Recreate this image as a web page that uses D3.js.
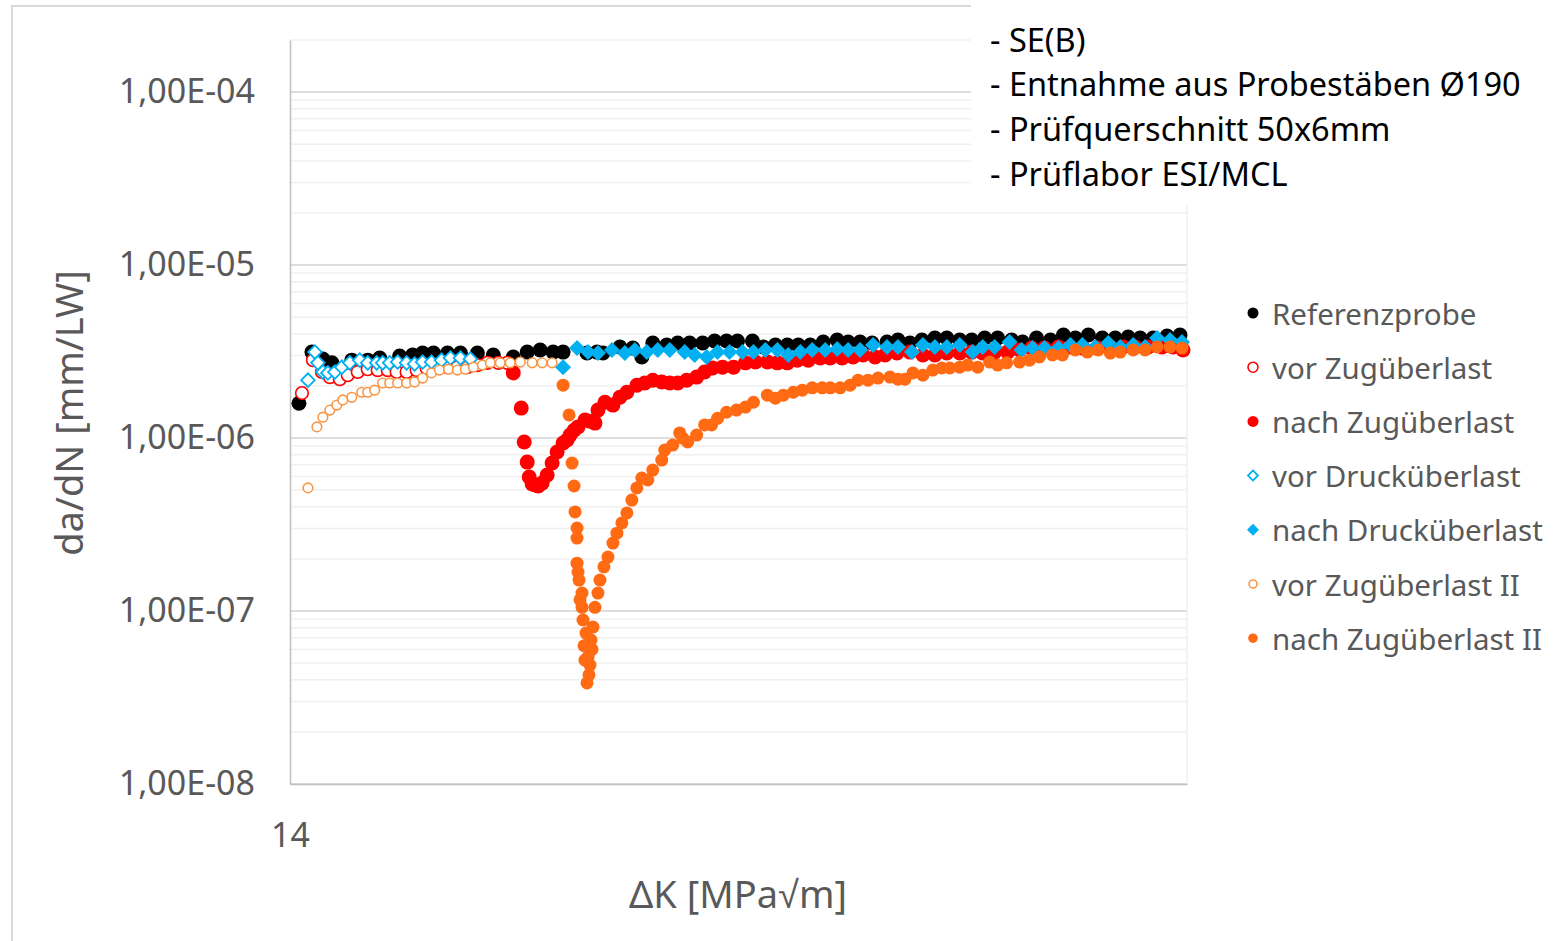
<!DOCTYPE html>
<html>
<head>
<meta charset="utf-8">
<script src="https://cdn.jsdelivr.net/npm/d3@7"></script>
<style>
body { margin: 0; background: #fff; }
svg { display: block; font-family: 'Noto Sans', sans-serif; }
</style>
</head>
<body>
<script>
// Werte: [ΔK, da/dN]
const referenzprobe = [
	[14.09, 1.59e-6], [14.22, 3.14e-6], [14.33, 2.86e-6], [14.42, 2.72e-6], [14.62, 2.82e-6], [14.78, 2.82e-6],
	[14.90, 2.90e-6], [15.10, 2.98e-6], [15.23, 3.02e-6], [15.33, 3.10e-6], [15.44, 3.10e-6], [15.58, 3.10e-6],
	[15.71, 3.10e-6], [15.88, 3.10e-6], [16.04, 3.02e-6], [16.24, 2.94e-6], [16.38, 3.14e-6], [16.51, 3.23e-6],
	[16.64, 3.14e-6], [16.74, 3.14e-6], [16.98, 3.10e-6], [17.08, 3.14e-6], [17.14, 3.10e-6], [17.31, 3.36e-6],
	[17.44, 3.31e-6], [17.53, 2.94e-6], [17.64, 3.54e-6], [17.78, 3.45e-6], [17.89, 3.54e-6], [18.01, 3.54e-6],
	[18.14, 3.54e-6], [18.26, 3.64e-6], [18.38, 3.64e-6], [18.49, 3.64e-6], [18.64, 3.64e-6], [18.75, 3.36e-6],
	[18.87, 3.45e-6], [18.99, 3.45e-6], [19.10, 3.45e-6], [19.22, 3.45e-6], [19.35, 3.59e-6], [19.49, 3.69e-6],
	[19.60, 3.59e-6], [19.72, 3.59e-6], [19.84, 3.54e-6], [19.99, 3.59e-6], [20.10, 3.69e-6], [20.22, 3.54e-6],
	[20.34, 3.69e-6], [20.47, 3.79e-6], [20.59, 3.79e-6], [20.72, 3.69e-6], [20.84, 3.69e-6], [20.97, 3.79e-6],
	[21.10, 3.79e-6], [21.24, 3.69e-6], [21.35, 3.59e-6], [21.49, 3.79e-6], [21.63, 3.69e-6], [21.76, 3.94e-6],
	[21.88, 3.79e-6], [22.01, 3.94e-6], [22.15, 3.79e-6], [22.28, 3.79e-6], [22.41, 3.84e-6], [22.53, 3.79e-6],
	[22.66, 3.79e-6], [22.80, 3.89e-6], [22.93, 3.94e-6]
]
const vorZug = [
	[14.12, 1.82e-6], [14.23, 2.82e-6], [14.32, 2.41e-6], [14.40, 2.25e-6], [14.50, 2.19e-6], [14.58, 2.31e-6],
	[14.68, 2.41e-6], [14.78, 2.50e-6], [14.88, 2.47e-6], [14.98, 2.47e-6], [15.07, 2.41e-6], [15.17, 2.41e-6],
	[15.27, 2.47e-6], [15.37, 2.54e-6], [15.47, 2.57e-6], [15.58, 2.57e-6], [15.68, 2.57e-6], [15.78, 2.57e-6],
	[15.88, 2.64e-6], [15.98, 2.72e-6], [16.09, 2.72e-6], [16.18, 2.72e-6]
]
const nachZug = [
	[16.24, 2.38e-6], [16.32, 1.49e-6], [16.35, 9.49e-7], [16.38, 7.26e-7], [16.40, 5.95e-7], [16.43, 5.42e-7],
	[16.46, 5.35e-7], [16.49, 5.28e-7], [16.53, 5.49e-7], [16.58, 6.11e-7], [16.63, 7.17e-7], [16.68, 8.30e-7],
	[16.74, 9.36e-7], [16.78, 9.74e-7], [16.81, 1.04e-6], [16.85, 1.11e-6], [16.89, 1.16e-6], [16.96, 1.27e-6],
	[17.01, 1.25e-6], [17.06, 1.22e-6], [17.09, 1.45e-6], [17.16, 1.61e-6], [17.24, 1.55e-6], [17.31, 1.72e-6],
	[17.38, 1.84e-6], [17.48, 2.02e-6], [17.56, 2.08e-6], [17.64, 2.16e-6], [17.73, 2.11e-6], [17.81, 2.08e-6],
	[17.89, 2.08e-6], [17.98, 2.16e-6], [18.08, 2.25e-6], [18.16, 2.41e-6], [18.24, 2.54e-6], [18.34, 2.57e-6],
	[18.45, 2.57e-6], [18.57, 2.72e-6], [18.67, 2.75e-6], [18.79, 2.75e-6], [18.89, 2.72e-6], [18.99, 2.72e-6],
	[19.09, 2.82e-6], [19.20, 2.82e-6], [19.32, 2.90e-6], [19.42, 2.90e-6], [19.54, 2.90e-6], [19.65, 2.94e-6],
	[19.75, 3.02e-6], [19.87, 2.94e-6], [19.97, 3.02e-6], [20.09, 3.10e-6], [20.22, 3.14e-6], [20.35, 3.02e-6],
	[20.47, 3.02e-6], [20.59, 3.10e-6], [20.72, 3.10e-6], [20.84, 3.14e-6], [20.95, 3.10e-6], [21.07, 3.14e-6],
	[21.20, 3.14e-6], [21.32, 3.23e-6], [21.44, 3.31e-6], [21.57, 3.31e-6], [21.71, 3.36e-6], [21.83, 3.36e-6],
	[21.96, 3.31e-6], [22.10, 3.31e-6], [22.23, 3.36e-6], [22.36, 3.36e-6], [22.48, 3.36e-6], [22.61, 3.36e-6],
	[22.75, 3.36e-6], [22.86, 3.36e-6], [22.96, 3.23e-6]
]
const vorDruck = [
	[14.18, 2.16e-6], [14.25, 3.14e-6], [14.28, 2.72e-6], [14.33, 2.41e-6], [14.38, 2.38e-6], [14.45, 2.41e-6],
	[14.52, 2.57e-6], [14.60, 2.72e-6], [14.70, 2.82e-6], [14.78, 2.72e-6], [14.87, 2.72e-6], [14.93, 2.72e-6],
	[15.00, 2.72e-6], [15.08, 2.75e-6], [15.17, 2.72e-6], [15.25, 2.68e-6], [15.33, 2.75e-6], [15.42, 2.75e-6],
	[15.52, 2.82e-6], [15.61, 2.90e-6], [15.71, 2.90e-6], [15.81, 2.86e-6]
]
const nachDruck = [
	[16.74, 2.57e-6], [16.88, 3.31e-6], [16.99, 3.14e-6], [17.09, 3.10e-6], [17.23, 3.23e-6], [17.36, 3.10e-6],
	[17.46, 3.23e-6], [17.58, 3.14e-6], [17.69, 3.23e-6], [17.81, 3.23e-6], [17.96, 3.14e-6], [18.06, 3.02e-6],
	[18.18, 2.94e-6], [18.29, 3.14e-6], [18.41, 3.14e-6], [18.54, 3.14e-6], [18.65, 3.14e-6], [18.77, 3.23e-6],
	[18.89, 3.23e-6], [19.00, 3.02e-6], [19.12, 3.14e-6], [19.24, 3.23e-6], [19.37, 3.23e-6], [19.49, 3.27e-6],
	[19.60, 3.23e-6], [19.72, 3.23e-6], [19.85, 3.45e-6], [19.99, 3.36e-6], [20.10, 3.36e-6], [20.24, 3.14e-6],
	[20.35, 3.45e-6], [20.47, 3.36e-6], [20.59, 3.36e-6], [20.72, 3.45e-6], [20.85, 3.14e-6], [20.95, 3.36e-6],
	[21.07, 3.36e-6], [21.22, 3.59e-6], [21.34, 3.23e-6], [21.45, 3.31e-6], [21.57, 3.31e-6], [21.71, 3.31e-6],
	[21.83, 3.45e-6], [21.95, 3.45e-6], [22.08, 3.36e-6], [22.21, 3.54e-6], [22.33, 3.36e-6], [22.46, 3.45e-6],
	[22.58, 3.36e-6], [22.70, 3.79e-6], [22.83, 3.69e-6], [22.95, 3.59e-6]
]
const vorZug2 = [
	[14.18, 5.15e-7], [14.27, 1.16e-6], [14.33, 1.32e-6], [14.40, 1.45e-6], [14.47, 1.55e-6], [14.53, 1.66e-6],
	[14.62, 1.72e-6], [14.72, 1.84e-6], [14.78, 1.84e-6], [14.85, 1.89e-6], [14.93, 2.08e-6], [15.00, 2.08e-6],
	[15.08, 2.08e-6], [15.17, 2.08e-6], [15.25, 2.11e-6], [15.33, 2.22e-6], [15.42, 2.38e-6], [15.50, 2.47e-6],
	[15.59, 2.50e-6], [15.68, 2.47e-6], [15.76, 2.50e-6], [15.84, 2.57e-6], [15.93, 2.64e-6], [16.01, 2.72e-6],
	[16.11, 2.72e-6], [16.21, 2.72e-6], [16.31, 2.75e-6], [16.43, 2.72e-6], [16.53, 2.72e-6], [16.63, 2.72e-6]
]
const nachZug2 = [
	[16.74, 2.02e-6], [16.80, 1.36e-6], [16.83, 7.17e-7], [16.85, 5.28e-7], [16.86, 3.74e-7], [16.88, 3.02e-7],
	[16.88, 2.64e-7], [16.88, 1.89e-7], [16.89, 1.68e-7], [16.90, 1.51e-7], [16.91, 1.16e-7], [16.93, 1.27e-7],
	[16.93, 1.05e-7], [16.94, 8.87e-8], [16.95, 6.30e-8], [16.96, 5.20e-8], [16.97, 7.46e-8], [16.98, 6.19e-8],
	[16.99, 5.42e-8], [17.00, 4.27e-8], [17.01, 4.87e-8], [16.98, 3.84e-8], [17.02, 6.80e-8], [17.03, 6.00e-8],
	[17.04, 8.08e-8], [17.06, 1.05e-7], [17.09, 1.27e-7], [17.11, 1.51e-7], [17.15, 1.80e-7], [17.19, 2.05e-7],
	[17.24, 2.47e-7], [17.28, 2.82e-7], [17.33, 3.23e-7], [17.38, 3.69e-7], [17.43, 4.38e-7], [17.48, 5.15e-7],
	[17.53, 5.87e-7], [17.59, 5.72e-7], [17.64, 6.53e-7], [17.73, 7.46e-7], [17.76, 8.52e-7], [17.84, 9.11e-7],
	[17.91, 1.07e-6], [17.94, 1.00e-6], [17.99, 9.49e-7], [18.08, 1.04e-6], [18.16, 1.19e-6], [18.23, 1.19e-6],
	[18.29, 1.30e-6], [18.38, 1.41e-6], [18.48, 1.45e-6], [18.57, 1.51e-6], [18.65, 1.61e-6], [18.79, 1.77e-6],
	[18.87, 1.70e-6], [18.95, 1.77e-6], [19.05, 1.84e-6], [19.14, 1.89e-6], [19.24, 1.95e-6], [19.34, 1.95e-6],
	[19.42, 1.95e-6], [19.52, 1.95e-6], [19.62, 2.02e-6], [19.70, 2.16e-6], [19.80, 2.16e-6], [19.90, 2.22e-6],
	[20.02, 2.25e-6], [20.10, 2.19e-6], [20.17, 2.19e-6], [20.25, 2.38e-6], [20.35, 2.31e-6], [20.45, 2.47e-6],
	[20.54, 2.54e-6], [20.62, 2.54e-6], [20.72, 2.57e-6], [20.80, 2.64e-6], [20.90, 2.57e-6], [21.02, 2.75e-6],
	[21.10, 2.64e-6], [21.19, 2.72e-6], [21.32, 2.75e-6], [21.42, 2.82e-6], [21.52, 2.94e-6], [21.65, 3.02e-6],
	[21.75, 3.02e-6], [21.88, 3.23e-6], [22.00, 3.14e-6], [22.11, 3.23e-6], [22.23, 3.10e-6], [22.33, 3.14e-6],
	[22.46, 3.23e-6], [22.58, 3.23e-6], [22.70, 3.36e-6], [22.83, 3.36e-6], [22.95, 3.31e-6]
]

const seriesNames = ['Referenzprobe', 'vor Zugüberlast', 'nach Zugüberlast', 'vor Drucküberlast', 'nach Drucküberlast', 'vor Zugüberlast II', 'nach Zugüberlast II']
const yTicks = [1e-4, 1e-5, 1e-6, 1e-7, 1e-8]
const xTicks = [14]
const notes = ['- SE(B)', '- Entnahme aus Probestäben Ø190', '- Prüfquerschnitt 50x6mm', '- Prüflabor ESI/MCL']

// Darstellung je Reihe (Marker)
const styles = [
	{ data: referenzprobe, shape: 'circle', fill: '#000', stroke: 'none', r: 7.5, lr: 5.5 },
	{ data: vorZug, shape: 'circle', fill: '#fff', stroke: '#ff0000', r: 6.3, lr: 5 },
	{ data: nachZug, shape: 'circle', fill: '#ff0000', stroke: 'none', r: 7.5, lr: 5.5 },
	{ data: vorDruck, shape: 'diamond', fill: '#fff', stroke: '#00b0f0', r: 6.8, lr: 5 },
	{ data: nachDruck, shape: 'diamond', fill: '#00b0f0', stroke: 'none', r: 8, lr: 6 },
	{ data: vorZug2, shape: 'circle', fill: '#fff', stroke: '#f79646', r: 4.8, lr: 4 },
	{ data: nachZug2, shape: 'circle', fill: '#ff6a13', stroke: 'none', r: 6.5, lr: 4.8 }
]

const W = 1562, H = 941
const plot = { left: 290, right: 1187, top: 40, bottom: 784 }

const svg = d3.select('body').append('svg').attr('width', W).attr('height', H)

// Rahmen des Diagramms
svg.append('rect')
	.attr('x', 12).attr('y', 6).attr('width', 1700).attr('height', 1100)
	.attr('fill', '#fff').attr('stroke', '#d9d9d9').attr('stroke-width', 2)

const x = d3.scaleLinear().domain([14, 23]).range([plot.left, plot.right])
const y = d3.scaleLog().domain([1e-8, 2e-4]).range([plot.bottom, plot.top])

// Gitternetz: Hilfslinien und Hauptlinien
const minor = []
for (let e = -8; e <= -4; e++) {
	for (let m = 2; m <= 9; m++) {
		const v = m * Math.pow(10, e)
		if (v <= 2e-4) minor.push(v)
	}
}
svg.append('g').selectAll('line').data(minor).join('line')
	.attr('x1', plot.left).attr('x2', plot.right)
	.attr('y1', d => y(d)).attr('y2', d => y(d))
	.attr('stroke', '#f0f0f0').attr('stroke-width', 1.5)
svg.append('g').selectAll('line').data(yTicks).join('line')
	.attr('x1', plot.left).attr('x2', plot.right)
	.attr('y1', d => y(d)).attr('y2', d => y(d))
	.attr('stroke', '#dedede').attr('stroke-width', 2)

svg.append('line')
	.attr('x1', plot.right).attr('x2', plot.right).attr('y1', plot.top).attr('y2', plot.bottom)
	.attr('stroke', '#f0f0f0').attr('stroke-width', 1.5)

// Achsen
const fmt = d => '1,00E-' + String(-Math.round(Math.log10(d))).padStart(2, '0')
const gy = svg.append('g').attr('transform', `translate(${plot.left},0)`)
	.call(d3.axisLeft(y).tickValues(yTicks).tickFormat(fmt).tickSize(0).tickPadding(35))
const gx = svg.append('g').attr('transform', `translate(0,${plot.bottom})`)
	.call(d3.axisBottom(x).tickValues(xTicks).tickFormat(d3.format('d')).tickSize(0).tickPadding(39))
for (const g of [gx, gy]) {
	g.select('.domain').attr('stroke', '#bfbfbf').attr('stroke-width', 1.5)
	g.selectAll('text').attr('fill', '#595959').attr('font-size', 34).attr('font-family', "'Noto Sans', sans-serif")
}

// Marker
const diamond = d3.symbol().type(d3.symbolSquare)
function drawMarker(sel, s, r) {
	if (s.shape === 'circle') {
		sel.append('circle').attr('r', r)
			.attr('fill', s.fill).attr('stroke', s.stroke).attr('stroke-width', 1.6)
	} else {
		sel.append('path').attr('d', diamond.size(2 * r * r)()).attr('transform', 'rotate(45)')
			.attr('fill', s.fill).attr('stroke', s.stroke).attr('stroke-width', 1.8)
	}
}

styles.forEach(s => {
	svg.append('g').selectAll('g').data(s.data).join('g')
		.attr('transform', d => `translate(${x(d[0])},${y(d[1])})`)
		.each(function () { drawMarker(d3.select(this), s, s.r) })
})

// Achsentitel
svg.append('text')
	.attr('transform', 'translate(68,413) rotate(-90)')
	.attr('text-anchor', 'middle').attr('dominant-baseline', 'central')
	.attr('fill', '#595959').attr('font-size', 38)
	.text('da/dN [mm/LW]')
svg.append('text')
	.attr('x', 738).attr('y', 893)
	.attr('text-anchor', 'middle').attr('dominant-baseline', 'central')
	.attr('fill', '#595959').attr('font-size', 38)
	.text('ΔK [MPa√m]')

// Textfeld oben rechts
svg.append('rect').attr('x', 971).attr('y', 0).attr('width', W - 971).attr('height', 205).attr('fill', '#fff')
svg.append('g').selectAll('text').data(notes).join('text')
	.attr('x', 990).attr('y', (d, i) => 39 + i * 44.7)
	.attr('dominant-baseline', 'central')
	.attr('fill', '#000').attr('font-size', 32.5)
	.text(d => d)

// Legende
const legend = svg.append('g').selectAll('g').data(styles).join('g')
	.attr('transform', (d, i) => `translate(1253,${313 + i * 54.2})`)
legend.each(function (s) { drawMarker(d3.select(this), s, s.lr) })
legend.append('text')
	.attr('x', 19).attr('dominant-baseline', 'central')
	.attr('fill', '#595959').attr('font-size', 29.5)
	.text((d, i) => seriesNames[i])
</script>
</body>
</html>
